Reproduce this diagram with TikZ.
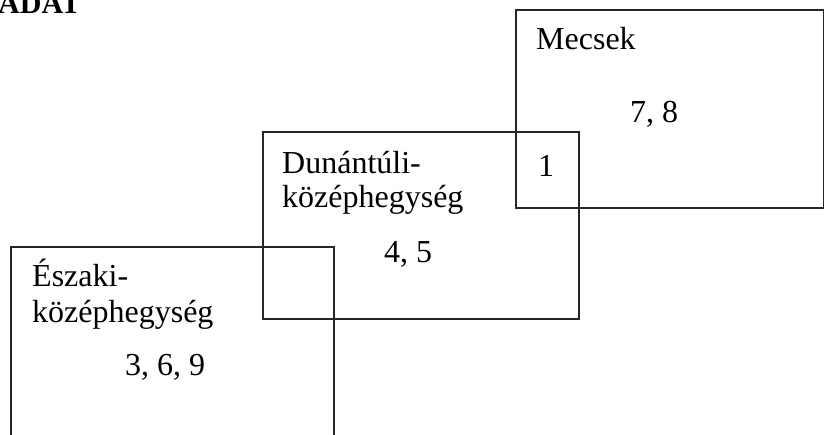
\documentclass[tikz,border=0pt]{standalone}
\usepackage{fontspec}
\setmainfont{Liberation Serif}
\begin{document}
\begin{tikzpicture}[x=1pt,y=-1pt,
  region/.style={draw=black!85, line width=1.6pt, rectangle, inner sep=0pt, anchor=north west},
  lbl/.style={inner sep=0pt, anchor=base west, font=\fontsize{32}{35}\selectfont, text=black},
  ttl/.style={inner sep=0pt, anchor=base west, font=\fontsize{30}{33}\selectfont\bfseries}]
\useasboundingbox (0,0) rectangle (824,434);
\clip (0,0) rectangle (824,434);
% boxes
\node[region, minimum width=308pt, minimum height=198pt] (mecsek) at (515,9) {};
\node[region, minimum width=316pt, minimum height=187pt] (dunantul) at (262,131) {};
\node[region, minimum width=323pt, minimum height=220pt] (eszaki) at (10,246) {};
% title
\node[ttl] (title) at (-2,13) {ADAT};
% labels
\node[lbl] (t1) at (536,49) {Mecsek};
\node[lbl] (t2) at (630,122) {7, 8};
\node[lbl] (t3) at (538,176) {1};
\node[lbl] (t4) at (282,173) {Dunántúli-};
\node[lbl] (t5) at (282,207) {középhegység};
\node[lbl] (t6) at (384,262) {4, 5};
\node[lbl] (t7) at (32,286) {Északi-};
\node[lbl] (t8) at (32,322) {középhegység};
\node[lbl] (t9) at (125,375) {3, 6, 9};
\end{tikzpicture}
\end{document}
